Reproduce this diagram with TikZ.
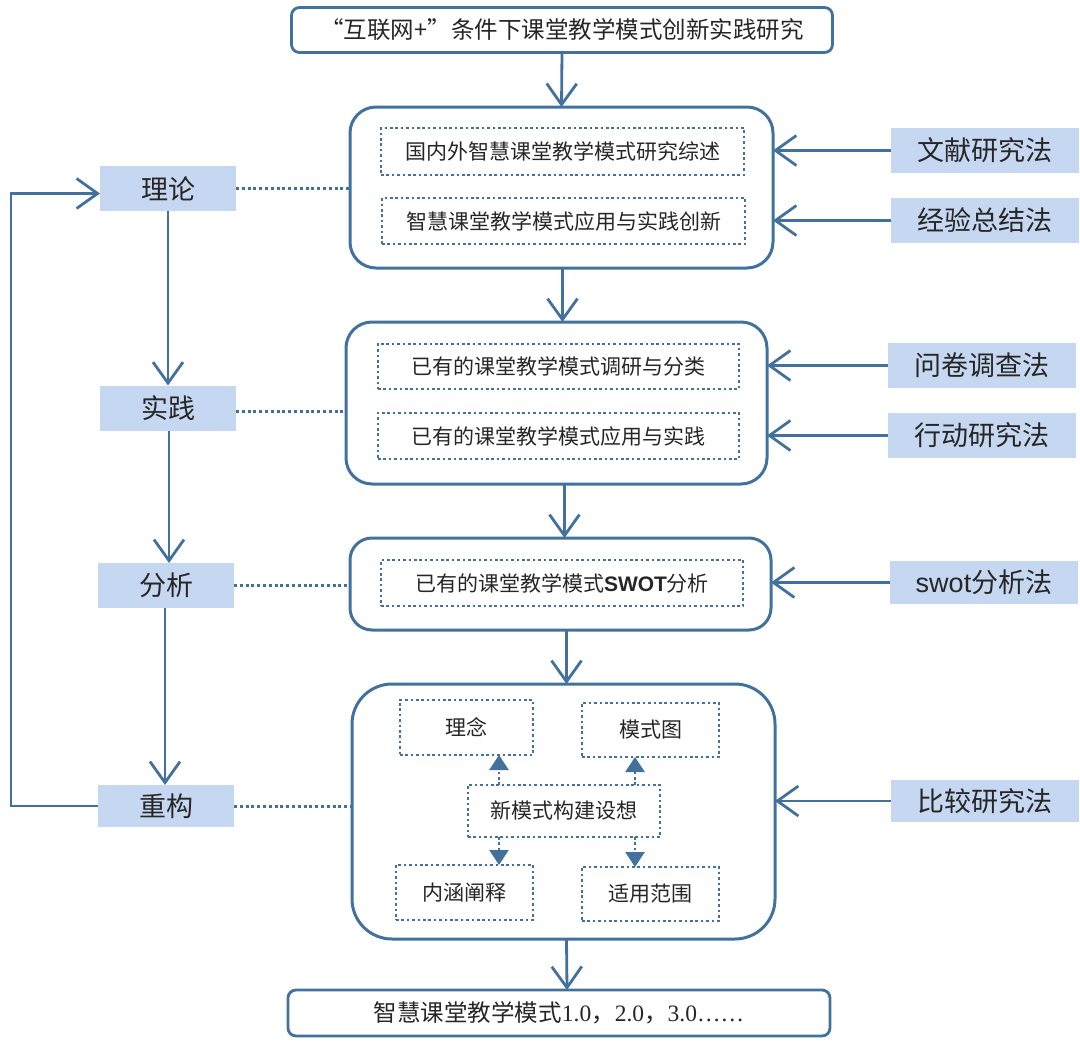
\documentclass[tikz,border=0pt]{standalone}
\usepackage{fontspec}
\setmainfont{Noto Sans CJK SC}
\newfontfamily\numfont{Liberation Serif}
\newfontfamily\swotfont{Liberation Sans}
\usetikzlibrary{arrows.meta}
\definecolor{lineblue}{RGB}{65,113,156}
\definecolor{fillblue}{RGB}{197,215,241}
\definecolor{txt}{RGB}{38,38,38}

\tikzset{
  endbox/.style={draw=lineblue, line width=2.8pt, rounded corners=8pt, text=txt,
    font=\fontsize{23.5pt}{28pt}\selectfont},
  stagebox/.style={draw=lineblue, line width=3pt, rounded corners=#1},
  dotbox/.style={draw=lineblue, line width=2.6pt, dash pattern=on 2.6pt off 2.8pt, text=txt,
    font=\fontsize{21pt}{25pt}\selectfont},
  leftlabel/.style={fill=fillblue, text=txt, minimum width=136pt, minimum height=45pt,
    font=\fontsize{27pt}{32pt}\selectfont},
  methodlabel/.style={fill=fillblue, text=txt, minimum width=188pt, minimum height=45pt,
    font=\fontsize{27pt}{32pt}\selectfont},
  flow/.style={draw=lineblue, line width=2.8pt, -{Straight Barb[length=21pt,width=30pt]}},
  link/.style={draw=lineblue, line width=3pt, dash pattern=on 3pt off 2.8pt},
  subflow/.style={draw=lineblue, line width=2.6pt, dash pattern=on 2.6pt off 2.8pt,
    -{Triangle[length=15pt,width=19pt]}},
}

\begin{document}
\begin{tikzpicture}[x=1pt,y=-1pt, inner sep=0pt, outer sep=0pt]
	\useasboundingbox (0,0) rectangle (1080,1044);

	% main line
	\node (title) at (562,30)[endbox, minimum width=541pt, minimum height=45pt]{“互联网+”条件下课堂教学模式创新实践研究};

	\node (box1) at (561.5,187.5)[stagebox=26pt, minimum width=423pt, minimum height=161pt]{};
	\node (review) at (562.5,151.5)[dotbox, minimum width=363pt, minimum height=47pt]{国内外智慧课堂教学模式研究综述};
	\node (innov) at (563.5,221)[dotbox, minimum width=363pt, minimum height=46pt]{智慧课堂教学模式应用与实践创新};

	\node (box2) at (556.5,403)[stagebox=26pt, minimum width=421pt, minimum height=162pt]{};
	\node (survey) at (558.5,366.5)[dotbox, minimum width=361pt, minimum height=45pt]{已有的课堂教学模式调研与分类};
	\node (apply) at (558.5,436)[dotbox, minimum width=361pt, minimum height=46pt]{已有的课堂教学模式应用与实践};

	\node (box3) at (560.5,584)[stagebox=22pt, minimum width=421pt, minimum height=92pt]{};
	\node (swot) at (562,583)[dotbox, minimum width=362pt, minimum height=46pt]{已有的课堂教学模式{\swotfont\bfseries SWOT}分析};

	\node (box4) at (563.5,811.5)[stagebox=40pt, minimum width=423pt, minimum height=255pt]{};
	\node (idea) at (466.5,727.5)[dotbox, minimum width=133pt, minimum height=55pt]{理念};
	\node (graph) at (650.5,730)[dotbox, minimum width=137pt, minimum height=54pt]{模式图};
	\node (newm) at (564,811)[dotbox, minimum width=192pt, minimum height=52pt]{新模式构建设想};
	\node (conn) at (464.5,892.5)[dotbox, minimum width=137pt, minimum height=55pt]{内涵阐释};
	\node (range) at (650.5,894)[dotbox, minimum width=137pt, minimum height=54pt]{适用范围};

	\node (final) at (559,1013)[endbox, minimum width=542pt, minimum height=46pt]{智慧课堂教学模式{\numfont 1.0}，{\numfont 2.0}，{\numfont 3.0……}};

	\draw[flow] (title.south) -- (box1.north);
	\draw[flow] ([xshift=1pt]box1.south) -- ([xshift=6pt]box2.north);
	\draw[flow] ([xshift=8pt]box2.south) -- ([xshift=4pt]box3.north);
	\draw[flow] ([xshift=6pt]box3.south) -- ([xshift=3pt]box4.north);
	\draw[flow] ([xshift=3pt]box4.south) -- ([xshift=8pt]final.north);

	\draw[subflow] ([xshift=31pt]newm.north west) -- ([xshift=31pt]newm.north west |- idea.south);
	\draw[subflow] ([xshift=-25pt]newm.north east) -- ([xshift=-25pt]newm.north east |- graph.south);
	\draw[subflow] ([xshift=31pt]newm.south west) -- ([xshift=31pt]newm.south west |- conn.north);
	\draw[subflow] ([xshift=-25pt]newm.south east) -- ([xshift=-25pt]newm.south east |- range.north);

	% left column
	\node (theory) at (168,188.5)[leftlabel]{理论};
	\node (practice) at (168,408)[leftlabel]{实践};
	\node (analysis) at (166,585.5)[leftlabel]{分析};
	\node (rebuild) at (166,806)[leftlabel, minimum height=42pt]{重构};

	\draw[flow] (theory.south) -- (practice.north);
	\draw[flow] ([xshift=1pt]practice.south) -- ([xshift=3pt]analysis.north);
	\draw[flow] ([xshift=-1pt]analysis.south) -- ([xshift=-1pt]rebuild.north);
	\coordinate (loop) at (11,806);
	\draw[flow] (rebuild.west) -- (loop) |- ([yshift=-5pt]theory.west);

	\draw[link] (theory.east) -- (box1.west |- theory.east);
	\draw[link] ([yshift=-3pt]practice.east) -- ([yshift=-3pt]box2.west |- practice.east);
	\draw[link] (analysis.east) -- (box3.west |- analysis.east);
	\draw[link] (rebuild.east) -- (box4.west |- rebuild.east);

	% right column
	\node (lit) at (985,150.5)[methodlabel]{文献研究法};
	\node (exp) at (985,220.5)[methodlabel]{经验总结法};
	\node (quest) at (982,365.5)[methodlabel]{问卷调查法};
	\node (action) at (982,435.5)[methodlabel]{行动研究法};
	\node (swotm) at (984,582.5)[methodlabel, minimum height=43pt]{{\swotfont swot}分析法};
	\node (comp) at (985,801)[methodlabel, minimum height=42pt]{比较研究法};

	\draw[flow] (lit.west) -- (box1.east |- lit.west);
	\draw[flow] (exp.west) -- (box1.east |- exp.west);
	\draw[flow] (quest.west) -- (box2.east |- quest.west);
	\draw[flow] (action.west) -- (box2.east |- action.west);
	\draw[flow] (swotm.west) -- (box3.east |- swotm.west);
	\draw[flow] (comp.west) -- (box4.east |- comp.west);
\end{tikzpicture}
\end{document}
